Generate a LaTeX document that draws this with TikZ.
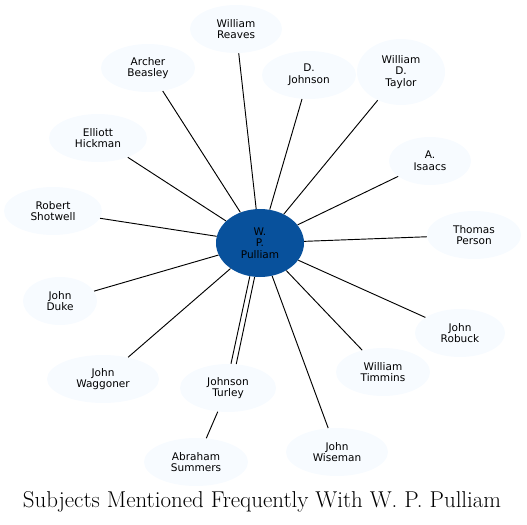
\documentclass[tikz,border=0pt]{standalone}
\usepackage{fontspec}
\newfontfamily\labelfont{DejaVu Sans}
\usepackage{tikz}
\usetikzlibrary{shapes.geometric}
\definecolor{subjfill}{HTML}{F7FBFF}
\definecolor{hubfill}{HTML}{08519C}
\tikzset{
  subject/.style={
    ellipse,
    fill=subjfill,
    inner sep=0pt,
    align=center,
    minimum height=36pt,
    font=\labelfont\fontsize{7.9}{8.8}\selectfont
  },
  hub/.style={
    subject,
    fill=hubfill,
    minimum width=66pt,
    minimum height=51pt
  },
  link/.style={line width=0.7pt}
}
\begin{document}
\begin{tikzpicture}[x=0.75pt,y=-0.75pt]
  \useasboundingbox (0,0) rectangle (527,524);
  \node[hub] (pulliam) at (260,243) {W.\\P.\\Pulliam};
  \node[subject, minimum width=69pt] (reaves) at (236,29) {William\\Reaves};
  \node[subject, minimum width=70.5pt] (beasley) at (148,68) {Archer\\Beasley};
  \node[subject, minimum width=70.5pt] (djohnson) at (309,75) {D.\\Johnson};
  \node[subject, minimum width=66pt, minimum height=49.5pt] (taylor) at (401,72) {William\\D.\\Taylor};
  \node[subject, minimum width=73.5pt] (hickman) at (98,138) {Elliott\\Hickman};
  \node[subject, minimum width=61.5pt] (isaacs) at (430,161) {A.\\Isaacs};
  \node[subject, minimum width=73.5pt] (shotwell) at (53,211) {Robert\\Shotwell};
  \node[subject, minimum width=70.5pt] (person) at (474,235) {Thomas\\Person};
  \node[subject, minimum width=55.5pt] (duke) at (60,301) {John\\Duke};
  \node[subject, minimum width=67.5pt] (robuck) at (460,333) {John\\Robuck};
  \node[subject, minimum width=84pt] (waggoner) at (103,379) {John\\Waggoner};
  \node[subject, minimum width=70.5pt] (timmins) at (383,372) {William\\Timmins};
  \node[subject, minimum width=72pt] (turley) at (228,388) {Johnson\\Turley};
  \node[subject, minimum width=78pt] (summers) at (196,462) {Abraham\\Summers};
  \node[subject, minimum width=76.5pt] (wiseman) at (337,452) {John\\Wiseman};
  \node[font=\fontsize{17.2}{20}\selectfont] (title) at (262,502) {Subjects Mentioned Frequently With W. P. Pulliam};

  \foreach \other in {reaves,beasley,djohnson,taylor,hickman,isaacs,shotwell,person,duke,robuck,waggoner,timmins,wiseman}
    \draw[link] (pulliam) -- (\other);
  \draw[link] (pulliam.253) -- (turley.83);
  \draw[link] (pulliam.261) -- (turley.71);
  \draw[link] (turley) -- (summers);
\end{tikzpicture}
\end{document}
